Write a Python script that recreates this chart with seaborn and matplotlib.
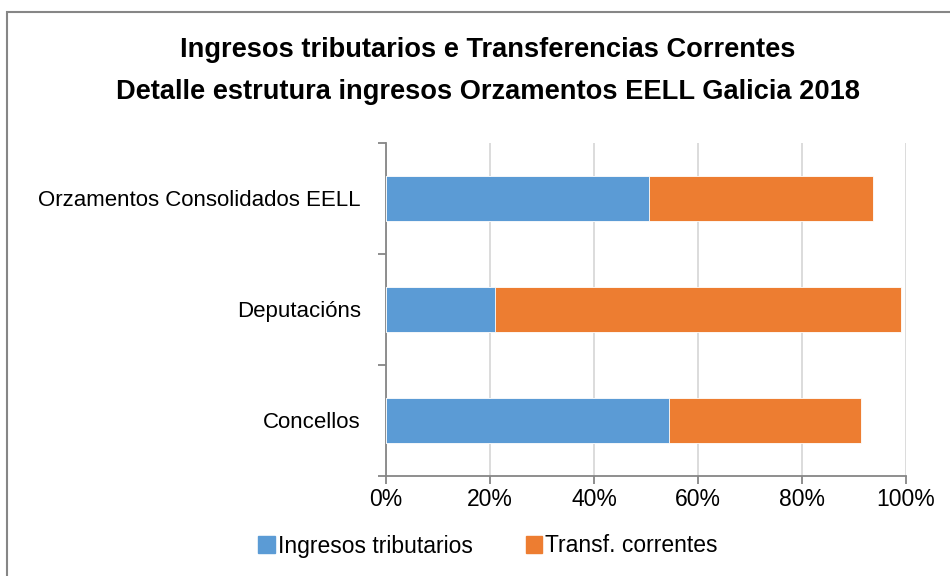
import numpy as np
import pandas as pd
import seaborn as sns
import matplotlib.pyplot as plt
import matplotlib.ticker as ticker
from matplotlib.patches import Rectangle, Patch

# data (percent of total income)
categories = ["Orzamentos Consolidados EELL", "Deputacións", "Concellos"]
tributarios = [50.6, 21.0, 54.4]
transf_correntes = [43.0, 78.0, 36.9]
x_ticks = [0, 20, 40, 60, 80, 100]

blue = '#5B9BD5'
orange = '#ED7D31'

sns.set_style("white")
plt.rcParams['font.family'] = ['Liberation Sans', 'DejaVu Sans']
plt.rcParams['text.color'] = 'black'

df = pd.DataFrame({"cat": categories, "trib": tributarios, "transf": transf_correntes})
df["total"] = df["trib"] + df["transf"]

fig = plt.figure(figsize=(9.5, 5.76), dpi=100)
ax = fig.add_axes([386 / 950, 1 - 476 / 576, 520 / 950, 333 / 576])

# stacked: draw the totals in orange, then the blue part over them
sns.barplot(x="total", y="cat", data=df, color=orange, orient='h', width=0.405,
            saturation=1, ax=ax, zorder=3)
sns.barplot(x="trib", y="cat", data=df, color=blue, orient='h', width=0.405,
            saturation=1, ax=ax, zorder=4)
for p in ax.patches:
    p.set_edgecolor('white')
    p.set_linewidth(0.6)

ax.set_xlim(0, 100)
ax.set_ylim(2.5, -0.5)
ax.set_xticks(x_ticks)
ax.xaxis.set_major_formatter(ticker.FuncFormatter(lambda v, pos: '{:.0f}%'.format(v)))
ax.set_yticks([0, 1, 2])
ax.set_yticklabels(categories)
ax.set_yticks([-0.5, 0.5, 1.5, 2.5], minor=True)
ax.set_xlabel('')
ax.set_ylabel('')

ax.grid(axis='x', color='#D9D9D9', linewidth=1.3, zorder=0)
ax.set_axisbelow(True)
for s in ['top', 'right']:
    ax.spines[s].set_visible(False)
for s in ['left', 'bottom']:
    ax.spines[s].set_color('#868686')
    ax.spines[s].set_linewidth(1.3)

ax.tick_params(axis='x', which='major', bottom=True, direction='out', length=6, width=1.3,
               color='#868686', labelsize=16.5, pad=3, labelcolor='black')
ax.tick_params(axis='y', which='major', left=True, length=0, labelsize=16, pad=18,
               labelcolor='black')
ax.tick_params(axis='y', which='minor', left=True, direction='out', length=6, width=1.3,
               color='#868686')

fig.text(488 / 950, 1 - 50 / 576, "Ingresos tributarios e Transferencias Correntes",
         ha='center', va='center', fontsize=19.6, fontweight='bold', color='black')
fig.text(488 / 950, 1 - 92 / 576, "Detalle estrutura ingresos Orzamentos EELL Galicia 2018",
         ha='center', va='center', fontsize=19.6, fontweight='bold', color='black')

handles = [Patch(color=blue, label='Ingresos tributarios'),
           Patch(color=orange, label='Transf. correntes')]
fig.legend(handles=handles, loc='center', bbox_to_anchor=(488 / 950, 1 - 546 / 576), ncol=2,
           frameon=False, fontsize=16.5, handlelength=0.7, handleheight=0.7,
           handletextpad=0.15, columnspacing=2.3)

# chart border
fig.patches.append(Rectangle((7 / 950, -0.1), 1.2, 1 - 12 / 576 + 0.1, transform=fig.transFigure,
                             fill=False, edgecolor='#868686', linewidth=1.5))

fig.savefig('out.png', dpi=100)
